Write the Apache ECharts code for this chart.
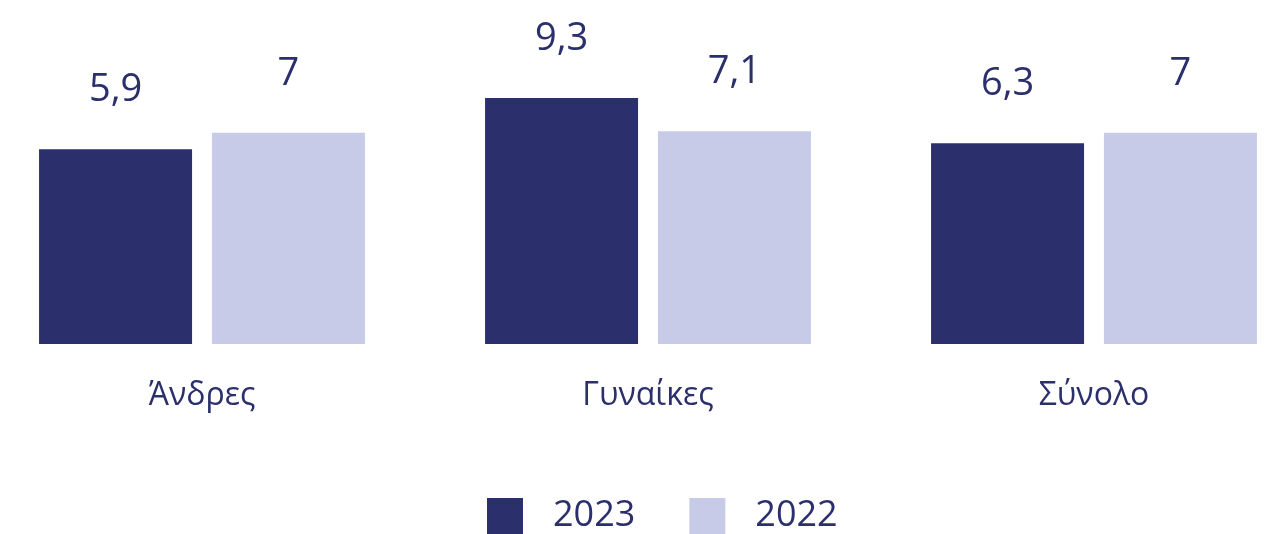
<!DOCTYPE html>
<html>
<head>
<meta charset="utf-8">
<script src="https://cdn.jsdelivr.net/npm/echarts@6/dist/echarts.min.js"></script>
<style>
  html, body { margin: 0; padding: 0; background: #ffffff; }
  #chart { width: 1281px; height: 534px; }
</style>
</head>
<body>
<div id="chart"></div>
<script>
// Categories and yearly values
const categories = ['Άνδρες', 'Γυναίκες', 'Σύνολο'];
const values2023 = [5.9, 9.3, 6.3];
const values2022 = [7, 7.1, 7];
const seriesNames = ['2023', '2022'];

const DARK = '#2b2f6c';
const LIGHT = '#c7cbe7';
const FONT = '"Open Sans", "Noto Sans", sans-serif';
const WEIGHT = 500;

const fmt = p => String(p.value).replace('.', ',');

const chart = echarts.init(document.getElementById('chart'));
chart.setOption({
  animation: false,
  textStyle: { fontFamily: FONT, color: DARK, fontWeight: WEIGHT },
  // categories sit on the grid edges and centre (boundaryGap off)
  grid: { left: 202, right: 187, top: 12, bottom: 190, containLabel: false },
  legend: {
    left: 482,
    top: 493,
    itemWidth: 36,
    itemHeight: 36,
    itemGap: 54,
    icon: 'rect',
    textStyle: { fontSize: 36, color: DARK, fontFamily: FONT, fontWeight: WEIGHT, padding: [0, 0, 0, 25] },
    data: seriesNames
  },
  xAxis: {
    type: 'category',
    data: categories,
    boundaryGap: false,
    axisLine: { show: false },
    axisTick: { show: false },
    splitLine: { show: false },
    axisLabel: { fontSize: 32, color: DARK, fontFamily: FONT, fontWeight: WEIGHT, margin: 36 }
  },
  yAxis: {
    type: 'value',
    min: -7,
    max: 15,
    startValue: -7,
    show: false,
    splitLine: { show: false }
  },
  series: [
    {
      name: seriesNames[0],
      type: 'bar',
      data: values2023,
      barWidth: 153,
      barGap: '13%',
      clip: false,
      itemStyle: { color: DARK },
      label: { show: true, position: 'top', distance: 40, fontSize: 38, color: DARK, fontFamily: FONT, fontWeight: WEIGHT, formatter: fmt }
    },
    {
      name: seriesNames[1],
      type: 'bar',
      data: values2022,
      barWidth: 153,
      clip: false,
      itemStyle: { color: LIGHT },
      label: { show: true, position: 'top', distance: 40, fontSize: 38, color: DARK, fontFamily: FONT, fontWeight: WEIGHT, formatter: fmt }
    }
  ]
});
</script>
</body>
</html>
